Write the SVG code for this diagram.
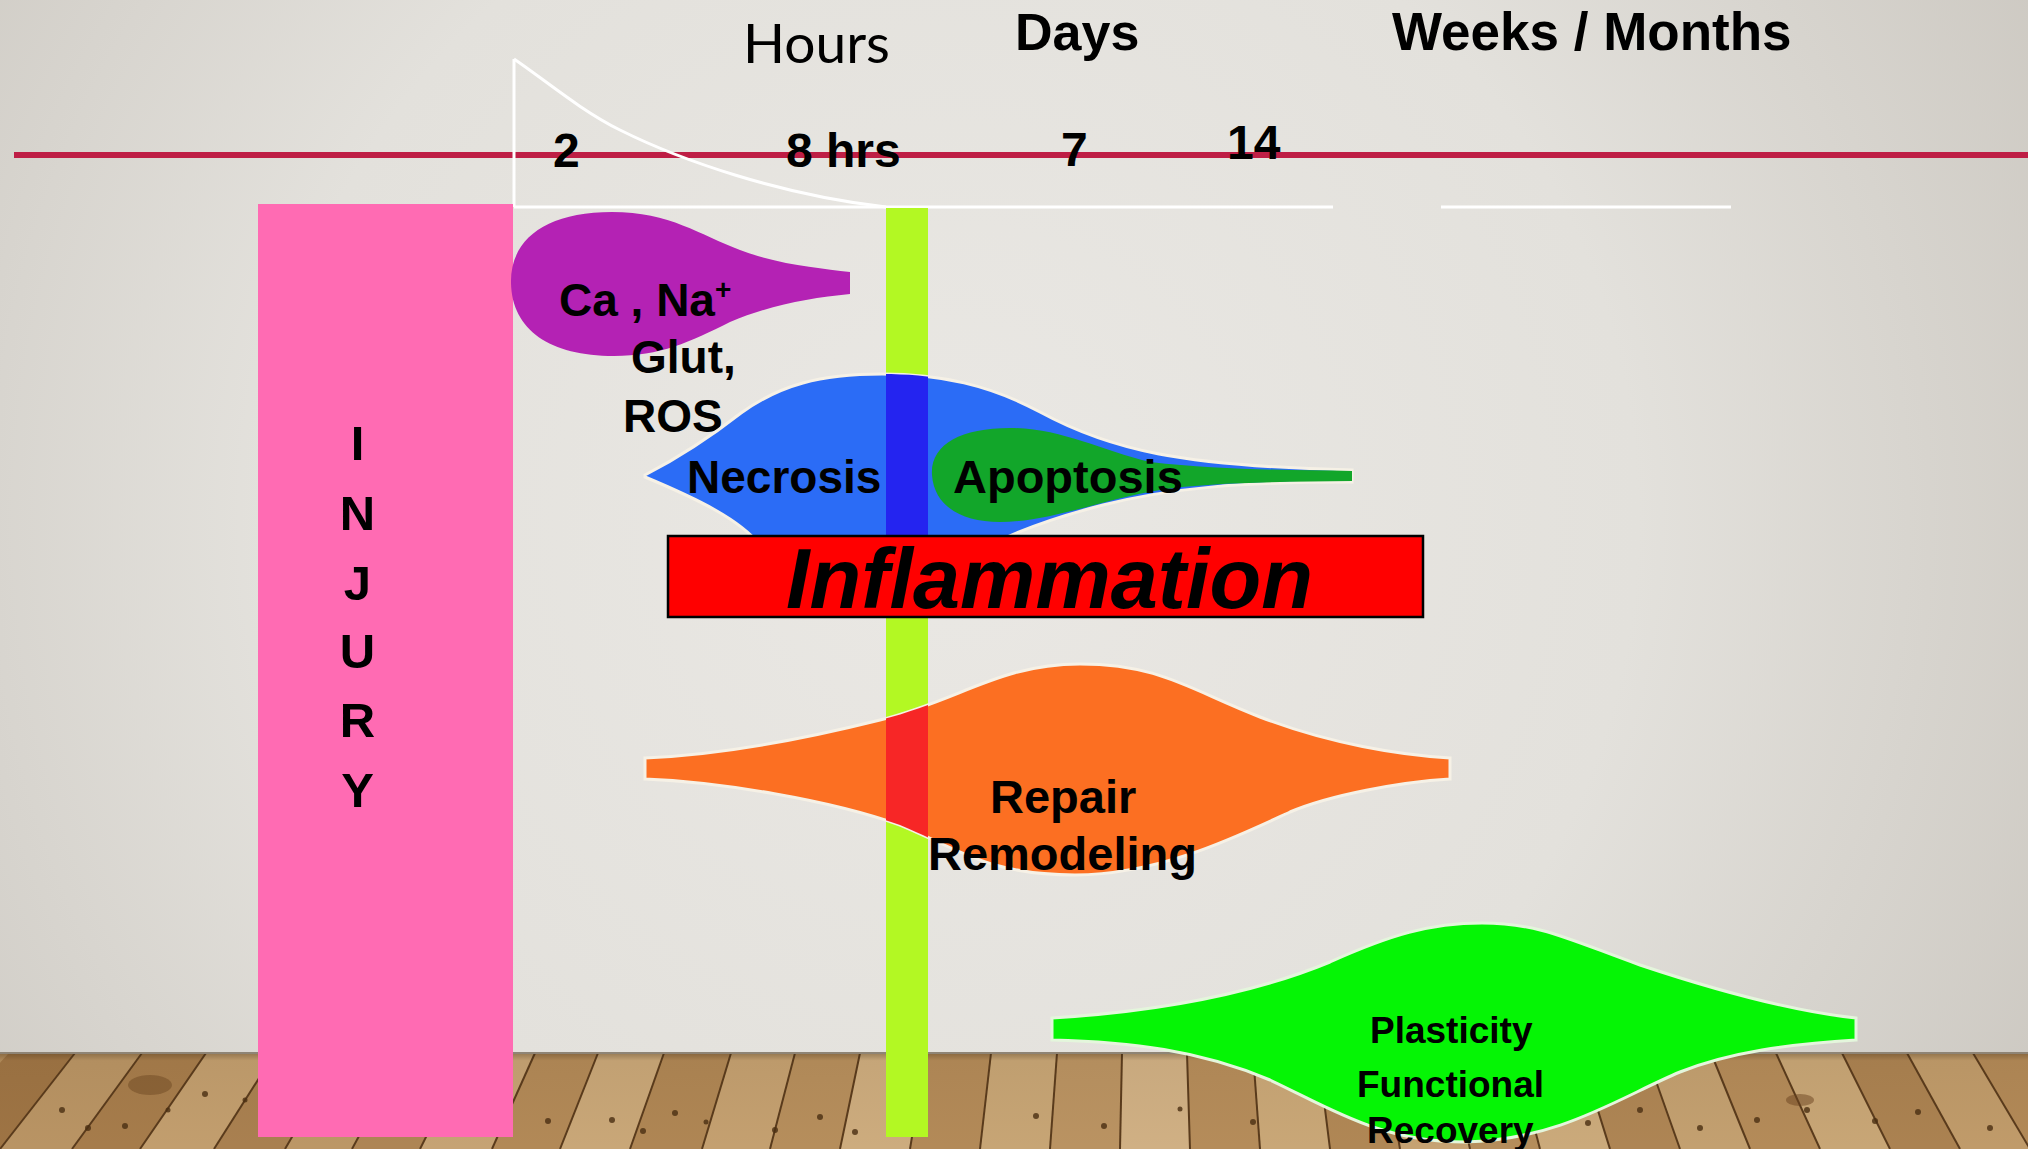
<svg xmlns="http://www.w3.org/2000/svg" width="2028" height="1149" viewBox="0 0 2028 1149">
  <defs>
    <radialGradient id="wall" cx="950" cy="520" r="1250" gradientUnits="userSpaceOnUse">
      <stop offset="0" stop-color="#EAE8E4"/>
      <stop offset="0.55" stop-color="#E3E1DC"/>
      <stop offset="1" stop-color="#CCC8C1"/>
    </radialGradient>
    <linearGradient id="floorShade" x1="0" y1="1053" x2="0" y2="1149" gradientUnits="userSpaceOnUse">
      <stop offset="0" stop-color="#3A2810" stop-opacity="0.35"/>
      <stop offset="0.08" stop-color="#3A2810" stop-opacity="0.05"/>
      <stop offset="1" stop-color="#3A2810" stop-opacity="0"/>
    </linearGradient>
    <clipPath id="blueClip">
      <path d="M645,475 C670,462 700,445 741,413 C780,385 820,374 882,374 C940,374 990,385 1040,412 C1110,450 1180,466 1352,470 L1352,482 C1240,482 1170,488 1103,505 C1060,516 1020,530 990,545 L760,545 C740,520 700,500 645,477 Z"/>
    </clipPath>
    <clipPath id="orangeClip">
      <path d="M645,758 C720,755 800,740 880,720 C960,700 1000,664 1080,664 C1160,664 1190,690 1260,717 C1330,744 1400,755 1450,758 L1450,779 C1400,782 1330,795 1290,812 C1240,835 1160,875 1075,875 C990,875 960,850 900,825 C830,800 720,782 645,779 Z"/>
    </clipPath>
    <style>
      .b { font-family: "Liberation Sans", Arial, sans-serif; font-weight: bold; fill: #000; }
      .plank { stroke: #5A3B1C; stroke-width: 2; }
      .blob { stroke: #F6F1E6; stroke-width: 3; }
      .white { stroke: #FFFFFF; stroke-width: 3; fill: none; }
      .knot { fill: #4A2E12; opacity: 0.8; }
    </style>
  </defs>

  <!-- wall -->
  <rect x="0" y="0" width="2028" height="1149" fill="url(#wall)"/>

  <!-- floor -->
  <g id="floor">
    <rect x="0" y="1053" width="2028" height="96" fill="#B48D5C"/>
    <polygon points="-80,1149 0,1149 75,1053 9,1053" fill="#9E7444"/>
    <polygon points="0,1149 72,1149 142,1053 75,1053" fill="#B99464"/>
    <polygon points="72,1149 140,1149 206,1053 142,1053" fill="#A67C4B"/>
    <polygon points="140,1149 214,1149 275,1053 206,1053" fill="#C29E6E"/>
    <polygon points="214,1149 285,1149 341,1053 275,1053" fill="#A98050"/>
    <polygon points="285,1149 352,1149 404,1053 341,1053" fill="#BC9766"/>
    <polygon points="352,1149 420,1149 468,1053 404,1053" fill="#AE8554"/>
    <polygon points="420,1149 492,1149 535,1053 468,1053" fill="#C6A374"/>
    <polygon points="492,1149 560,1149 598,1053 535,1053" fill="#B28957"/>
    <polygon points="560,1149 630,1149 664,1053 598,1053" fill="#C9A778"/>
    <polygon points="630,1149 702,1149 731,1053 664,1053" fill="#AF8654"/>
    <polygon points="702,1149 770,1149 795,1053 731,1053" fill="#C4A070"/>
    <polygon points="770,1149 840,1149 860,1053 795,1053" fill="#B68E5C"/>
    <polygon points="840,1149 910,1149 926,1053 860,1053" fill="#CDAC7E"/>
    <polygon points="910,1149 980,1149 991,1053 926,1053" fill="#B38A58"/>
    <polygon points="980,1149 1050,1149 1057,1053 991,1053" fill="#C7A575"/>
    <polygon points="1050,1149 1120,1149 1122,1053 1057,1053" fill="#BA9362"/>
    <polygon points="1120,1149 1190,1149 1187,1053 1122,1053" fill="#D0B084"/>
    <polygon points="1190,1149 1260,1149 1253,1053 1187,1053" fill="#B58C5A"/>
    <polygon points="1260,1149 1330,1149 1318,1053 1253,1053" fill="#C9A777"/>
    <polygon points="1330,1149 1400,1149 1384,1053 1318,1053" fill="#B08755"/>
    <polygon points="1400,1149 1470,1149 1449,1053 1384,1053" fill="#C6A272"/>
    <polygon points="1470,1149 1540,1149 1515,1053 1449,1053" fill="#B58D5B"/>
    <polygon points="1540,1149 1610,1149 1580,1053 1515,1053" fill="#CBAA7B"/>
    <polygon points="1610,1149 1680,1149 1646,1053 1580,1053" fill="#AE8554"/>
    <polygon points="1680,1149 1750,1149 1711,1053 1646,1053" fill="#C3A070"/>
    <polygon points="1750,1149 1820,1149 1776,1053 1711,1053" fill="#B48B59"/>
    <polygon points="1820,1149 1890,1149 1842,1053 1776,1053" fill="#C8A676"/>
    <polygon points="1890,1149 1960,1149 1907,1053 1842,1053" fill="#AB8251"/>
    <polygon points="1960,1149 2030,1149 1973,1053 1907,1053" fill="#C09B6A"/>
    <polygon points="2030,1149 2100,1149 2038,1053 1973,1053" fill="#B28957"/>
    <g class="plank">
      <line x1="0" y1="1149" x2="75" y2="1053"/>
      <line x1="72" y1="1149" x2="142" y2="1053"/>
      <line x1="140" y1="1149" x2="206" y2="1053"/>
      <line x1="214" y1="1149" x2="275" y2="1053"/>
      <line x1="285" y1="1149" x2="341" y2="1053"/>
      <line x1="352" y1="1149" x2="404" y2="1053"/>
      <line x1="420" y1="1149" x2="468" y2="1053"/>
      <line x1="492" y1="1149" x2="535" y2="1053"/>
      <line x1="560" y1="1149" x2="598" y2="1053"/>
      <line x1="630" y1="1149" x2="664" y2="1053"/>
      <line x1="702" y1="1149" x2="731" y2="1053"/>
      <line x1="770" y1="1149" x2="795" y2="1053"/>
      <line x1="840" y1="1149" x2="860" y2="1053"/>
      <line x1="910" y1="1149" x2="926" y2="1053"/>
      <line x1="980" y1="1149" x2="991" y2="1053"/>
      <line x1="1050" y1="1149" x2="1057" y2="1053"/>
      <line x1="1120" y1="1149" x2="1122" y2="1053"/>
      <line x1="1190" y1="1149" x2="1187" y2="1053"/>
      <line x1="1260" y1="1149" x2="1253" y2="1053"/>
      <line x1="1330" y1="1149" x2="1318" y2="1053"/>
      <line x1="1400" y1="1149" x2="1384" y2="1053"/>
      <line x1="1470" y1="1149" x2="1449" y2="1053"/>
      <line x1="1540" y1="1149" x2="1515" y2="1053"/>
      <line x1="1610" y1="1149" x2="1580" y2="1053"/>
      <line x1="1680" y1="1149" x2="1646" y2="1053"/>
      <line x1="1750" y1="1149" x2="1711" y2="1053"/>
      <line x1="1820" y1="1149" x2="1776" y2="1053"/>
      <line x1="1890" y1="1149" x2="1842" y2="1053"/>
      <line x1="1960" y1="1149" x2="1907" y2="1053"/>
      <line x1="2030" y1="1149" x2="1973" y2="1053"/>
    </g>
    <g>
      <circle class="knot" cx="62" cy="1110" r="3"/>
      <circle class="knot" cx="88" cy="1128" r="3"/>
      <circle class="knot" cx="125" cy="1126" r="3"/>
      <circle class="knot" cx="168" cy="1110" r="2.5"/>
      <circle class="knot" cx="205" cy="1094" r="3"/>
      <circle class="knot" cx="245" cy="1100" r="2.5"/>
      <circle class="knot" cx="548" cy="1121" r="3"/>
      <circle class="knot" cx="612" cy="1120" r="3"/>
      <circle class="knot" cx="643" cy="1131" r="3"/>
      <circle class="knot" cx="675" cy="1113" r="3"/>
      <circle class="knot" cx="706" cy="1122" r="2.5"/>
      <circle class="knot" cx="775" cy="1130" r="3"/>
      <circle class="knot" cx="820" cy="1117" r="3"/>
      <circle class="knot" cx="855" cy="1132" r="3"/>
      <circle class="knot" cx="1036" cy="1116" r="3"/>
      <circle class="knot" cx="1104" cy="1126" r="3"/>
      <circle class="knot" cx="1180" cy="1109" r="2.5"/>
      <circle class="knot" cx="1253" cy="1122" r="3"/>
      <circle class="knot" cx="1588" cy="1123" r="3"/>
      <circle class="knot" cx="1640" cy="1110" r="3"/>
      <circle class="knot" cx="1700" cy="1128" r="3"/>
      <circle class="knot" cx="1757" cy="1120" r="3"/>
      <circle class="knot" cx="1807" cy="1110" r="3"/>
      <circle class="knot" cx="1875" cy="1121" r="3"/>
      <circle class="knot" cx="1918" cy="1112" r="3"/>
      <circle class="knot" cx="1990" cy="1128" r="3"/>
      <ellipse cx="150" cy="1085" rx="22" ry="10" fill="#6B4420" opacity="0.45"/>
      <ellipse cx="1800" cy="1100" rx="14" ry="6" fill="#6B4420" opacity="0.5"/>
    </g>
    <rect x="0" y="1053" width="2028" height="96" fill="url(#floorShade)"/>
    <line x1="0" y1="1053" x2="2028" y2="1053" stroke="#8E8475" stroke-width="2"/>
  </g>

  <!-- timeline axis -->
  <g id="axis">
    <line x1="14" y1="155" x2="2028" y2="155" stroke="#BE1E45" stroke-width="6"/>
    <line class="white" x1="514" y1="59" x2="514" y2="207"/>
    <path class="white" d="M514,59 C545,80 580,110 620,130 C680,160 780,195 886,207"/>
    <line class="white" x1="514" y1="207" x2="1333" y2="207"/>
    <line class="white" x1="1441" y1="207" x2="1731" y2="207"/>
  </g>

  <g id="timeline-labels">
    <text x="743" y="63" font-family="Lato, 'Open Sans', sans-serif" font-size="54" fill="#000" textLength="147" lengthAdjust="spacingAndGlyphs">Hours</text>
    <text class="b" x="1015" y="50" font-size="52">Days</text>
    <text class="b" x="1392" y="50" font-size="53">Weeks / Months</text>
    <text class="b" x="553" y="167" font-size="48">2</text>
    <text class="b" x="786" y="167" font-size="48">8 hrs</text>
    <text class="b" x="1061" y="166" font-size="48">7</text>
    <text class="b" x="1227" y="159" font-size="48">14</text>
  </g>

  <!-- injury bar -->
  <g id="injury">
    <rect x="258" y="204" width="255" height="933" fill="#FF6BB3"/>
    <g class="b" font-size="49" text-anchor="middle">
      <text x="357.5" y="460">I</text>
      <text x="357.5" y="530">N</text>
      <text x="357.5" y="600">J</text>
      <text x="357.5" y="668">U</text>
      <text x="357.5" y="737">R</text>
      <text x="357.5" y="807">Y</text>
    </g>
  </g>

  <!-- 8 hr marker bar -->
  <g id="marker-8hrs">
    <rect x="886" y="208" width="42" height="929" fill="#B3F823"/>
  </g>

  <!-- ionic / excitotoxic -->
  <g id="ions">
    <path d="M511,283 C510,240 545,212 612,212 C670,212 700,235 740,250 C780,265 820,268 850,272 L850,294 C810,298 770,305 730,322 C690,342 660,356 614,356 C550,356 512,330 511,283 Z" fill="#B422B4"/>
    <text class="b" x="559" y="316" font-size="46">Ca , Na<tspan font-size="28" dy="-17">+</tspan></text>
    <text class="b" x="631" y="373" font-size="46">Glut,</text>
    <text class="b" x="623" y="432" font-size="46">ROS</text>
  </g>

  <!-- necrosis / apoptosis -->
  <g id="necrosis">
    <path class="blob" d="M645,475 C670,462 700,445 741,413 C780,385 820,374 882,374 C940,374 990,385 1040,412 C1110,450 1180,466 1352,470 L1352,482 C1240,482 1170,488 1103,505 C1060,516 1020,530 990,545 L760,545 C740,520 700,500 645,477 Z" fill="#2B6CF6"/>
    <rect x="886" y="360" width="42" height="200" fill="#2424F0" clip-path="url(#blueClip)"/>
    <text class="b" x="687" y="493" font-size="46">Necrosis</text>
  </g>
  <g id="apoptosis">
    <path d="M932,475 C930,445 960,428 1010,428 C1060,428 1100,450 1150,462 C1220,470 1290,470 1352,471 L1352,481 C1280,482 1210,482 1160,490 C1100,500 1050,522 1000,522 C960,522 934,505 932,475 Z" fill="#12A62A"/>
    <text class="b" x="953" y="493" font-size="47">Apoptosis</text>
  </g>

  <!-- inflammation -->
  <g id="inflammation">
    <rect x="668" y="536" width="755" height="81" fill="#FF0000" stroke="#000" stroke-width="2.5"/>
    <text class="b" x="786" y="608" font-size="85" font-style="italic" textLength="527" lengthAdjust="spacingAndGlyphs">Inflammation</text>
  </g>

  <!-- repair -->
  <g id="repair">
    <path class="blob" d="M645,758 C720,755 800,740 880,720 C960,700 1000,664 1080,664 C1160,664 1190,690 1260,717 C1330,744 1400,755 1450,758 L1450,779 C1400,782 1330,795 1290,812 C1240,835 1160,875 1075,875 C990,875 960,850 900,825 C830,800 720,782 645,779 Z" fill="#FC6F22"/>
    <rect x="886" y="650" width="42" height="240" fill="#F72626" clip-path="url(#orangeClip)"/>
    <text class="b" x="990" y="813" font-size="47">Repair</text>
    <text class="b" x="928" y="870" font-size="47">Remodeling</text>
  </g>

  <!-- plasticity -->
  <g id="plasticity">
    <path d="M1052,1018 C1150,1012 1250,995 1330,962 C1390,935 1430,923 1482,923 C1540,923 1570,940 1640,965 C1730,995 1800,1012 1856,1018 L1856,1040 C1790,1044 1730,1052 1680,1072 C1620,1097 1560,1140 1465,1142 C1380,1142 1330,1108 1270,1080 C1200,1050 1130,1042 1052,1040 Z" fill="#05F505" stroke="#E4F6DC" stroke-width="3"/>
    <text class="b" x="1370" y="1043" font-size="37">Plasticity</text>
    <text class="b" x="1357" y="1097" font-size="37">Functional</text>
    <text class="b" x="1367" y="1143" font-size="37">Recovery</text>
  </g>
</svg>
